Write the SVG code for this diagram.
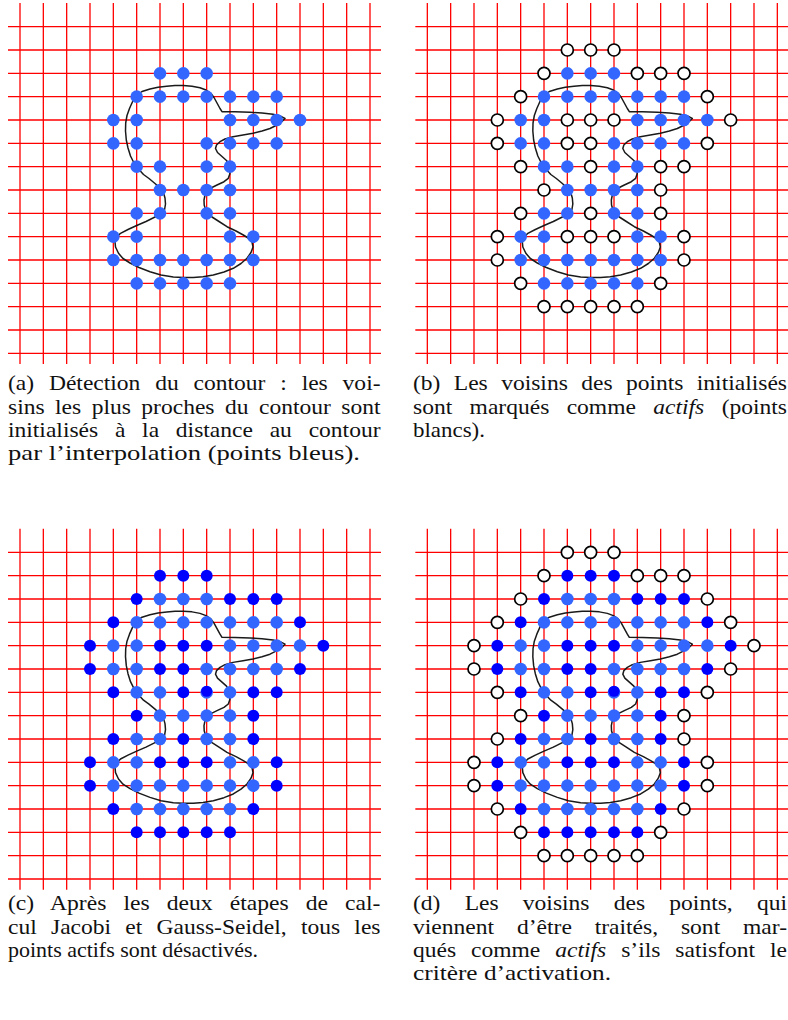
<svg xmlns="http://www.w3.org/2000/svg" xmlns:xlink="http://www.w3.org/1999/xlink" width="788" height="1020" viewBox="0 0 788 1020">
<style>
.grid{fill:none;stroke:#ff0000;stroke-width:1.3}
.contour{fill:none;stroke:#1a1a1a;stroke-width:1.5;stroke-linejoin:round}
.L{fill:#3366ff}
.D{fill:#0000ff}
.O{fill:#ffffff;stroke:#000000;stroke-width:1.7}
.cap{font-family:"Liberation Serif","Times New Roman",serif;font-size:21px;fill:#111}
.it{font-style:italic}
</style>
<defs>
<path id="grid" class="grid" d="M20 3V364M43.33 3V364M66.67 3V364M90 3V364M113.33 3V364M136.67 3V364M160 3V364M183.33 3V364M206.67 3V364M230 3V364M253.33 3V364M276.67 3V364M300 3V364M323.33 3V364M346.67 3V364M370 3V364M8 26.67H381M8 50H381M8 73.33H381M8 96.67H381M8 120H381M8 143.33H381M8 166.67H381M8 190H381M8 213.33H381M8 236.67H381M8 260H381M8 283.33H381M8 306.67H381M8 330H381M8 353.33H381"/>
<path id="contour" class="contour" d="M133.3 100L137 95L142 91.5L150 89L158 87.3L166.7 86.3L175 85.5L183.3 85.5L192 86.2L200 87.7L206 90L211 93.5L214 97.5L217 103L220 108.5L222 111.7L235 111.8L250 112.3L262 113L273 114.3L280 116L285 118.5L282 121.5L277 125L270 128.5L262 131L253 133.3L243 135L233 136.7L225 139L220 141.7L216.5 145L215.5 148.5L217.5 152.5L222 156.5L226.5 160.5L229 164.5L230 168.5L229.8 174L228.3 178.3L224 181.7L217 185L211 188L207 191L205 195L204 200L204.2 205L205.5 209.5L208 213.5L212 217L219 221.5L227 226.7L236 231L243.3 235L249 238.5L252 242L253 247L251 252.5L247 258.3L241 263.5L233.3 268.3L224 272L213.3 275L203 276.8L193.3 277.5L183 277.5L173.3 277L161 275L150 271.7L139 267.5L130 263L123 258.5L118.5 253.3L115.5 247L115 241.7L117 237L120.5 233.3L128 229.5L136.7 225.5L146 221.5L155 217L161 214L164.5 210L165.5 204L165 198L163.3 192L160 188L155 183.5L149 178.5L143.5 174.5L138 168.5L134 163L130.5 156L128 148L126.3 140L125.5 131L125.7 123L127 115.5L129.5 108.5Z"/>
<g id="ptsL">
<circle cx="160" cy="73.33" r="6.3"/><circle cx="183.33" cy="73.33" r="6.3"/><circle cx="206.67" cy="73.33" r="6.3"/>
<circle cx="136.67" cy="96.67" r="6.3"/><circle cx="160" cy="96.67" r="6.3"/><circle cx="183.33" cy="96.67" r="6.3"/><circle cx="206.67" cy="96.67" r="6.3"/><circle cx="230" cy="96.67" r="6.3"/><circle cx="253.33" cy="96.67" r="6.3"/><circle cx="276.67" cy="96.67" r="6.3"/>
<circle cx="113.33" cy="120" r="6.3"/><circle cx="136.67" cy="120" r="6.3"/><circle cx="230" cy="120" r="6.3"/><circle cx="253.33" cy="120" r="6.3"/><circle cx="276.67" cy="120" r="6.3"/><circle cx="300" cy="120" r="6.3"/>
<circle cx="113.33" cy="143.33" r="6.3"/><circle cx="136.67" cy="143.33" r="6.3"/><circle cx="206.67" cy="143.33" r="6.3"/><circle cx="230" cy="143.33" r="6.3"/><circle cx="253.33" cy="143.33" r="6.3"/><circle cx="276.67" cy="143.33" r="6.3"/>
<circle cx="136.67" cy="166.67" r="6.3"/><circle cx="160" cy="166.67" r="6.3"/><circle cx="206.67" cy="166.67" r="6.3"/><circle cx="230" cy="166.67" r="6.3"/>
<circle cx="160" cy="190" r="6.3"/><circle cx="183.33" cy="190" r="6.3"/><circle cx="206.67" cy="190" r="6.3"/><circle cx="230" cy="190" r="6.3"/>
<circle cx="136.67" cy="213.33" r="6.3"/><circle cx="160" cy="213.33" r="6.3"/><circle cx="206.67" cy="213.33" r="6.3"/><circle cx="230" cy="213.33" r="6.3"/>
<circle cx="113.33" cy="236.67" r="6.3"/><circle cx="136.67" cy="236.67" r="6.3"/><circle cx="230" cy="236.67" r="6.3"/><circle cx="253.33" cy="236.67" r="6.3"/>
<circle cx="113.33" cy="260" r="6.3"/><circle cx="136.67" cy="260" r="6.3"/><circle cx="160" cy="260" r="6.3"/><circle cx="183.33" cy="260" r="6.3"/><circle cx="206.67" cy="260" r="6.3"/><circle cx="230" cy="260" r="6.3"/><circle cx="253.33" cy="260" r="6.3"/>
<circle cx="136.67" cy="283.33" r="6.3"/><circle cx="160" cy="283.33" r="6.3"/><circle cx="183.33" cy="283.33" r="6.3"/><circle cx="206.67" cy="283.33" r="6.3"/><circle cx="230" cy="283.33" r="6.3"/>
</g>
<g id="ring1">
<circle cx="160" cy="50" r="6"/><circle cx="183.33" cy="50" r="6"/><circle cx="206.67" cy="50" r="6"/>
<circle cx="136.67" cy="73.33" r="6"/><circle cx="230" cy="73.33" r="6"/><circle cx="253.33" cy="73.33" r="6"/><circle cx="276.67" cy="73.33" r="6"/>
<circle cx="113.33" cy="96.67" r="6"/><circle cx="300" cy="96.67" r="6"/>
<circle cx="90" cy="120" r="6"/><circle cx="160" cy="120" r="6"/><circle cx="183.33" cy="120" r="6"/><circle cx="206.67" cy="120" r="6"/><circle cx="323.33" cy="120" r="6"/>
<circle cx="90" cy="143.33" r="6"/><circle cx="160" cy="143.33" r="6"/><circle cx="183.33" cy="143.33" r="6"/><circle cx="300" cy="143.33" r="6"/>
<circle cx="113.33" cy="166.67" r="6"/><circle cx="183.33" cy="166.67" r="6"/><circle cx="253.33" cy="166.67" r="6"/><circle cx="276.67" cy="166.67" r="6"/>
<circle cx="136.67" cy="190" r="6"/><circle cx="253.33" cy="190" r="6"/>
<circle cx="113.33" cy="213.33" r="6"/><circle cx="183.33" cy="213.33" r="6"/><circle cx="253.33" cy="213.33" r="6"/>
<circle cx="90" cy="236.67" r="6"/><circle cx="160" cy="236.67" r="6"/><circle cx="183.33" cy="236.67" r="6"/><circle cx="206.67" cy="236.67" r="6"/><circle cx="276.67" cy="236.67" r="6"/>
<circle cx="90" cy="260" r="6"/><circle cx="276.67" cy="260" r="6"/>
<circle cx="113.33" cy="283.33" r="6"/><circle cx="253.33" cy="283.33" r="6"/>
<circle cx="136.67" cy="306.67" r="6"/><circle cx="160" cy="306.67" r="6"/><circle cx="183.33" cy="306.67" r="6"/><circle cx="206.67" cy="306.67" r="6"/><circle cx="230" cy="306.67" r="6"/>
</g>
<g id="ring2">
<circle cx="160" cy="26.67" r="6"/><circle cx="183.33" cy="26.67" r="6"/><circle cx="206.67" cy="26.67" r="6"/>
<circle cx="136.67" cy="50" r="6"/><circle cx="230" cy="50" r="6"/><circle cx="253.33" cy="50" r="6"/><circle cx="276.67" cy="50" r="6"/>
<circle cx="113.33" cy="73.33" r="6"/><circle cx="300" cy="73.33" r="6"/>
<circle cx="90" cy="96.67" r="6"/><circle cx="323.33" cy="96.67" r="6"/>
<circle cx="66.67" cy="120" r="6"/><circle cx="346.67" cy="120" r="6"/>
<circle cx="66.67" cy="143.33" r="6"/><circle cx="323.33" cy="143.33" r="6"/>
<circle cx="90" cy="166.67" r="6"/><circle cx="300" cy="166.67" r="6"/>
<circle cx="113.33" cy="190" r="6"/><circle cx="276.67" cy="190" r="6"/>
<circle cx="90" cy="213.33" r="6"/><circle cx="276.67" cy="213.33" r="6"/>
<circle cx="66.67" cy="236.67" r="6"/><circle cx="300" cy="236.67" r="6"/>
<circle cx="66.67" cy="260" r="6"/><circle cx="300" cy="260" r="6"/>
<circle cx="90" cy="283.33" r="6"/><circle cx="276.67" cy="283.33" r="6"/>
<circle cx="113.33" cy="306.67" r="6"/><circle cx="253.33" cy="306.67" r="6"/>
<circle cx="136.67" cy="330" r="6"/><circle cx="160" cy="330" r="6"/><circle cx="183.33" cy="330" r="6"/><circle cx="206.67" cy="330" r="6"/><circle cx="230" cy="330" r="6"/>
</g>
</defs>

<g id="panel-a">
<use xlink:href="#grid"/>
<use xlink:href="#contour"/>
<use xlink:href="#ptsL" class="L"/>
</g>

<g id="panel-b" transform="translate(407.33,0)">
<use xlink:href="#grid"/>
<use xlink:href="#contour"/>
<use xlink:href="#ptsL" class="L"/>
<use xlink:href="#ring1" class="O"/>
</g>

<g id="panel-c" transform="translate(0,525.67)">
<use xlink:href="#grid"/>
<use xlink:href="#contour"/>
<use xlink:href="#ptsL" class="L"/>
<use xlink:href="#ring1" class="D"/>
<circle class="D" cx="206.67" cy="165.6" r="5.6"/>
</g>

<g id="panel-d" transform="translate(407.33,525.67)">
<use xlink:href="#grid"/>
<use xlink:href="#contour"/>
<use xlink:href="#ptsL" class="L"/>
<use xlink:href="#ring1" class="D"/>
<circle class="D" cx="206.67" cy="165.6" r="5.6"/>
<use xlink:href="#ring2" class="O"/>
</g>

<g id="caption-a" class="cap">
<text x="8" y="390.3" word-spacing="8.0" textLength="372.5" lengthAdjust="spacingAndGlyphs">(a) Détection du contour : les voi-</text>
<text x="8" y="413.6" word-spacing="4.1" textLength="372.5" lengthAdjust="spacingAndGlyphs">sins les plus proches du contour sont</text>
<text x="8" y="436.9" word-spacing="9.71" textLength="372.5" lengthAdjust="spacingAndGlyphs">initialisés à la distance au contour</text>
<text x="8" y="460.2" textLength="352" lengthAdjust="spacingAndGlyphs">par l’interpolation (points bleus).</text>
</g>

<g id="caption-b" class="cap">
<text x="413" y="390.3" word-spacing="6.69" textLength="374" lengthAdjust="spacingAndGlyphs">(b) Les voisins des points initialisés</text>
<text x="413" y="413.6" word-spacing="10.27" textLength="374" lengthAdjust="spacingAndGlyphs">sont marqués comme <tspan class="it">actifs</tspan> (points</text>
<text x="413" y="436.9" textLength="72" lengthAdjust="spacingAndGlyphs">blancs).</text>
</g>

<g id="caption-c" class="cap">
<text x="8" y="910.3" word-spacing="9.95" textLength="372.5" lengthAdjust="spacingAndGlyphs">(c) Après les deux étapes de cal-</text>
<text x="8" y="933.6" word-spacing="7.49" textLength="372.5" lengthAdjust="spacingAndGlyphs">cul Jacobi et Gauss-Seidel, tous les</text>
<text x="8" y="956.9" textLength="250" lengthAdjust="spacingAndGlyphs">points actifs sont désactivés.</text>
</g>

<g id="caption-d" class="cap">
<text x="413" y="910.3" word-spacing="16.38" textLength="374" lengthAdjust="spacingAndGlyphs">(d) Les voisins des points, qui</text>
<text x="413" y="933.6" word-spacing="15.09" textLength="374" lengthAdjust="spacingAndGlyphs">viennent d’être traités, sont mar-</text>
<text x="413" y="956.9" word-spacing="8.1" textLength="374" lengthAdjust="spacingAndGlyphs">qués comme <tspan class="it">actifs</tspan> s’ils satisfont le</text>
<text x="413" y="980.2" textLength="198" lengthAdjust="spacingAndGlyphs">critère d’activation.</text>
</g>
</svg>
